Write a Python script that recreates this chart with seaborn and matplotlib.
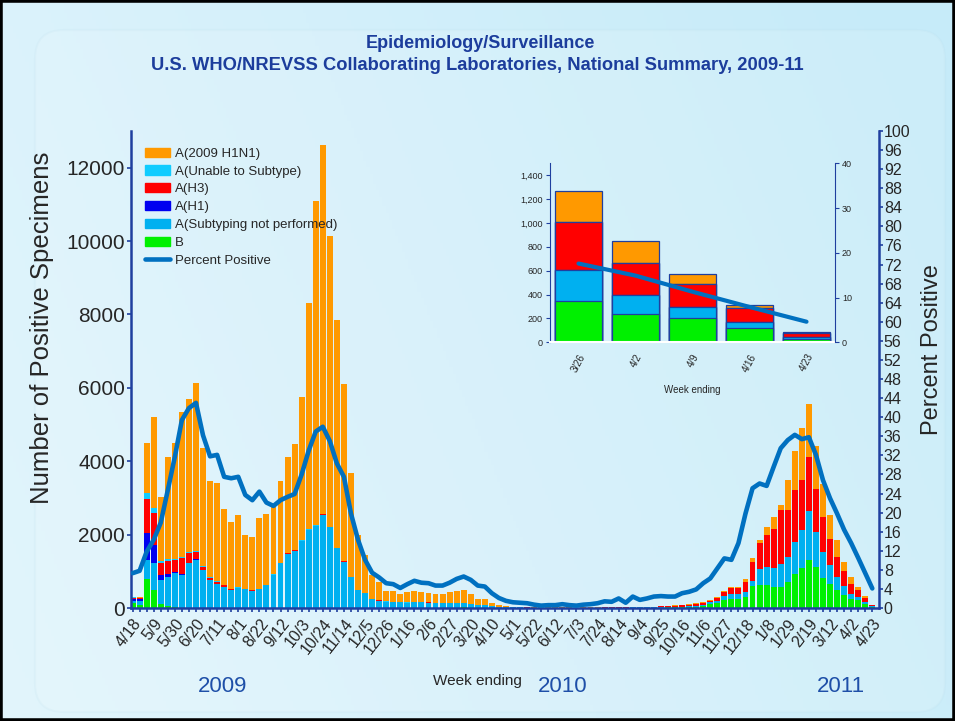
import numpy as np
import pandas as pd
import matplotlib
matplotlib.use("Agg")
import matplotlib.pyplot as plt
import seaborn as sns
from matplotlib.patches import Patch, FancyBboxPatch, Rectangle
from matplotlib.lines import Line2D
from matplotlib.colors import to_rgb

# ---- data: weekly counts, week ending 4/18/2009 .. 4/23/2011 ----
week_ending = pd.date_range("2009-04-18", "2011-04-23", freq="7D")

b_counts = [130, 70, 790, 490, 120, 50, 25, 10, 5, 5,
            3, 2, 2, 2, 2, 2, 2, 2, 2, 2,
            2, 2, 3, 3, 3, 4, 4, 4, 4, 4,
            4, 3, 3, 3, 3, 3, 3, 4, 5, 6,
            6, 7, 7, 8, 9, 10, 12, 14, 12, 10,
            10, 8, 6, 6, 5, 4, 4, 3, 3, 3,
            3, 3, 3, 3, 3, 3, 3, 4, 4, 5,
            6, 7, 8, 9, 10, 12, 15, 18, 20, 25,
            35, 45, 100, 125, 218, 254, 245, 290, 590, 626,
            626, 562, 562, 698, 925, 1079, 1306, 1107, 825, 644,
            490, 350, 240, 205, 120, 30]

a_not_subtyped = [70, 130, 520, 725, 640, 800, 920, 890, 1210, 1300,
                  1030, 760, 650, 580, 490, 535, 505, 470, 505, 620,
                  900, 1215, 1480, 1560, 1830, 2120, 2230, 2540, 2190, 1620,
                  1260, 830, 490, 400, 245, 200, 170, 155, 145, 140,
                  150, 150, 140, 120, 120, 120, 120, 120, 100, 70,
                  60, 40, 25, 15, 12, 10, 8, 7, 6, 5,
                  5, 5, 5, 4, 5, 5, 5, 5, 6, 6,
                  6, 7, 8, 8, 9, 10, 12, 14, 16, 20,
                  25, 30, 50, 75, 118, 136, 127, 136, 154, 435,
                  499, 517, 635, 680, 880, 1043, 1342, 952, 708, 526,
                  363, 255, 155, 90, 50, 15]

a_h1 = [40, 40, 726, 500, 140, 90, 40, 40, 25, 18,
        10, 5, 3, 2, 0, 0, 0, 0, 0, 0,
        0, 0, 0, 0, 0, 0, 0, 0, 0, 0,
        0, 0, 0, 0, 0, 0, 0, 0, 0, 0,
        0, 0, 0, 0, 0, 0, 0, 0, 0, 0,
        0, 0, 0, 0, 0, 0, 0, 0, 0, 0,
        0, 0, 0, 0, 0, 0, 0, 0, 0, 0,
        0, 0, 0, 0, 0, 0, 0, 0, 0, 0,
        0, 0, 0, 0, 0, 0, 0, 0, 0, 0,
        0, 0, 0, 0, 0, 0, 0, 0, 0, 0,
        0, 0, 0, 0, 0, 0]

a_h3 = [40, 30, 925, 880, 320, 340, 320, 410, 263, 209,
        73, 60, 60, 45, 25, 15, 12, 10, 8, 8,
        6, 6, 5, 5, 5, 5, 5, 5, 5, 5,
        4, 4, 3, 3, 3, 3, 3, 3, 3, 3,
        3, 3, 3, 3, 3, 3, 3, 3, 3, 3,
        3, 2, 2, 2, 2, 2, 2, 2, 2, 2,
        2, 2, 2, 2, 3, 3, 4, 5, 6, 7,
        9, 12, 13, 14, 16, 25, 30, 33, 38, 45,
        55, 70, 45, 80, 109, 163, 163, 290, 500, 700,
        862, 1070, 1470, 1288, 1406, 1379, 1469, 1197, 952, 698,
        544, 400, 270, 190, 115, 33]

a_unable = [15, 10, 180, 135, 60, 55, 30, 45, 27, 27,
            25, 25, 15, 10, 8, 8, 6, 6, 6, 6,
            8, 10, 10, 12, 15, 20, 20, 25, 20, 15,
            10, 8, 5, 4, 3, 3, 2, 2, 2, 2,
            2, 2, 2, 2, 2, 2, 2, 2, 2, 2,
            2, 2, 2, 2, 0, 0, 0, 0, 0, 0,
            0, 0, 0, 0, 0, 0, 0, 0, 0, 0,
            0, 0, 0, 0, 0, 0, 0, 0, 0, 0,
            0, 0, 0, 0, 0, 0, 0, 0, 0, 0,
            0, 0, 0, 0, 0, 0, 0, 0, 0, 0,
            0, 0, 0, 0, 0, 0]

a_h1n1_2009 = [15, 20, 1369, 2476, 1750, 2783, 3164, 3947, 4175, 4573,
               3231, 2613, 2690, 2055, 1806, 1971, 1461, 1435, 1919, 1922,
               1884, 2232, 2612, 2880, 3898, 6161, 8843, 10043, 7931, 6193,
               4817, 2838, 1485, 1032, 635, 498, 275, 307, 213, 275,
               311, 264, 265, 248, 256, 291, 316, 351, 264, 169,
               161, 84, 47, 38, 21, 14, 11, 8, 7, 5,
               5, 4, 4, 3, 3, 4, 4, 4, 4, 4,
               4, 4, 3, 4, 5, 7, 6, 7, 8, 10,
               12, 18, 23, 30, 27, 27, 45, 64, 126, 99,
               223, 336, 133, 834, 1061, 1406, 1434, 1152, 907, 663,
               453, 260, 180, 85, 30, 10]

pct_positive = [7.3, 7.8, 11.8, 14.3, 17.9, 24.7, 31.7, 39.4, 41.9, 43.0,
                36.2, 31.8, 32.1, 27.5, 27.2, 27.5, 23.7, 22.6, 24.4, 22.1,
                21.4, 22.6, 23.3, 23.9, 28.0, 33.0, 37.0, 38.0, 35.0, 30.3,
                27.5, 19.8, 14.3, 10.1, 7.4, 6.4, 5.2, 5.0, 4.2, 5.0,
                5.7, 5.3, 5.2, 4.7, 4.7, 5.3, 6.1, 6.6, 5.9, 4.7,
                4.5, 3.1, 2.1, 1.5, 1.2, 1.1, 1.0, 0.7, 0.5, 0.6,
                0.6, 0.8, 0.6, 0.5, 0.7, 0.8, 1.0, 1.4, 1.3, 2.0,
                1.1, 2.4, 1.7, 2.0, 2.4, 2.5, 2.4, 2.4, 3.1, 3.4,
                3.9, 5.2, 6.2, 8.3, 10.4, 10.1, 13.6, 19.8, 25.1, 26.1,
                25.6, 29.6, 33.5, 35.2, 36.3, 35.4, 35.8, 32.1, 26.8, 23.0,
                19.8, 16.4, 13.6, 10.5, 7.3, 4.1]

tick_labels = ["4/18", "5/9", "5/30", "6/20", "7/11", "8/1", "8/22", "9/12",
               "10/3", "10/24", "11/14", "12/5", "12/26", "1/16", "2/6", "2/27",
               "3/20", "4/10", "5/1", "5/22", "6/12", "7/3", "7/24", "8/14",
               "9/4", "9/25", "10/16", "11/6", "11/27", "12/18", "1/8", "1/29",
               "2/19", "3/12", "4/2", "4/23"]
year_labels = ["2009", "2010", "2011"]

# inset: last five weeks
inset_weeks = ["3/26", "4/2", "4/9", "4/16", "4/23"]
inset_pct = [17.6, 14.9, 11.3, 7.9, 4.6]

# stacking order (bottom -> top) and colours
series = ["B", "A(Subtyping not performed)", "A(H1)", "A(H3)",
          "A(Unable to Subtype)", "A(2009 H1N1)"]
colors = ["#00F000", "#00B0F0", "#0000F0", "#FF0000", "#10CCFF", "#FF9900"]
line_c = "#0070C0"
axis_c = "#1f3f9f"

df = pd.DataFrame({"week": week_ending,
                   series[0]: b_counts, series[1]: a_not_subtyped,
                   series[2]: a_h1, series[3]: a_h3,
                   series[4]: a_unable, series[5]: a_h1n1_2009,
                   "pct": pct_positive})
df["pos"] = np.arange(len(df))
cum = df[series].cumsum(axis=1)

sns.set_style("ticks")
plt.rcParams["font.family"] = ["Liberation Sans", "DejaVu Sans"]

fig = plt.figure(figsize=(9.55, 7.21), dpi=100)

# background
bg = fig.add_axes([0, 0, 1, 1], zorder=-5)
gx, gy = np.meshgrid(np.linspace(0, 1, 300), np.linspace(0, 1, 220))
t = np.clip(0.8 * gx + 0.25 * (1 - gy), 0, 1)
c0, c1 = np.array(to_rgb("#e2f5fc")), np.array(to_rgb("#c6ebf9"))
bg.imshow(c0 * (1 - t)[..., None] + c1 * t[..., None], extent=[0, 1, 0, 1], aspect="auto")
bg.axis("off")
fig.patches.append(FancyBboxPatch((35 / 955, 9 / 721), 910 / 955, 682 / 721,
                                  boxstyle="round,pad=0,rounding_size=0.03",
                                  mutation_aspect=955 / 721,
                                  transform=fig.transFigure, facecolor="white", alpha=0.12,
                                  edgecolor="#b5d9e8", lw=1.5, zorder=-4))
fig.patches.append(Rectangle((0, 0), 1, 1, transform=fig.transFigure, fill=False,
                             edgecolor="black", lw=4, zorder=10))

# ---- main chart ----
ax = fig.add_axes([131.3 / 955, 1 - 608 / 721, 747.7 / 955, 477 / 721])
ax.set_facecolor("none")
ax.set_zorder(2)
for k in reversed(range(len(series))):
    sns.barplot(x=df["pos"], y=cum[series[k]], color=colors[k], saturation=1,
                width=0.84, native_scale=True, errorbar=None, linewidth=0, ax=ax)
ax.set_xlim(-0.18, 105.95)
ax.set_ylim(0, 13000)
ax.set_yticks(range(0, 12001, 2000))
ax.set_xticks(df["pos"][::3])
ax.set_xticklabels(tick_labels, rotation=52, ha="right", rotation_mode="anchor", fontsize=11.5)
ax.set_xticks(df["pos"], minor=True)
ax.tick_params(axis="x", which="both", direction="out", length=3, width=1.2, color=axis_c, pad=3)
ax.tick_params(axis="y", direction="out", length=3, width=1.2, color=axis_c, labelsize=15, pad=1.5)
ax.set_xlabel("")
ax.set_ylabel("")
for s in ["left", "bottom"]:
    ax.spines[s].set_color(axis_c)
    ax.spines[s].set_linewidth(1.8)
ax.spines["top"].set_visible(False)
ax.spines["right"].set_visible(False)

ax2 = ax.twinx()
ax2.set_zorder(3)
ax2.set_facecolor("none")
sns.lineplot(x=df["pos"], y=df["pct"], color=line_c, linewidth=3.3, ax=ax2)
ax2.set_ylim(0, 100)
ax2.set_yticks(range(0, 101, 4))
ax2.tick_params(axis="y", direction="out", length=3, width=1.2, color=axis_c, labelsize=11.5, pad=0.5)
ax2.set_ylabel("")
ax2.set_xlabel("")
for s in ["top", "left", "bottom"]:
    ax2.spines[s].set_visible(False)
ax2.spines["right"].set_color(axis_c)
ax2.spines["right"].set_linewidth(1.8)

handles = [Patch(color=colors[k], label=series[k]) for k in reversed(range(len(series)))]
handles.append(Line2D([], [], color=line_c, lw=3.3, label="Percent Positive"))
ax2.legend(handles=handles, loc="upper left", bbox_to_anchor=(0.018, 0.965), frameon=False,
           fontsize=9.5, handlelength=1.95, handleheight=0.7, labelspacing=0.42,
           handletextpad=0.35, borderaxespad=0, borderpad=0)

# ---- inset ----
axin = fig.add_axes([550 / 955, 1 - 342.3 / 721, 285 / 955, 179 / 721])
axin.set_zorder(4)
axin.set_facecolor("none")
inset_pos = np.arange(len(inset_weeks))
tail = cum.iloc[-len(inset_weeks):]
for k in reversed(range(len(series))):
    sns.barplot(x=inset_pos, y=tail[series[k]].values, color=colors[k], saturation=1,
                width=0.83, native_scale=True, errorbar=None,
                edgecolor=axis_c, linewidth=0.9, ax=axin)
axin.set_xlim(-0.5, 4.5)
axin.set_ylim(0, 1500)
axin.set_yticks(range(0, 1401, 200))
axin.set_yticklabels([f"{v:,}" for v in range(0, 1401, 200)], fontsize=6.5)
axin.set_xticks(inset_pos)
axin.set_xticklabels(inset_weeks, rotation=62, ha="right", rotation_mode="anchor", fontsize=7)
axin.tick_params(axis="x", length=0, pad=7)
axin.tick_params(axis="y", direction="out", length=3, color=axis_c, pad=2)
axin.set_xlabel("Week ending", fontsize=7, labelpad=8)
axin.set_ylabel("")
axin.spines["top"].set_visible(False)
axin.spines["right"].set_visible(False)
axin.spines["left"].set_color(axis_c)
axin.spines["bottom"].set_color("white")
axin.spines["bottom"].set_linewidth(1.5)

axin2 = axin.twinx()
axin2.set_zorder(5)
axin2.set_facecolor("none")
sns.lineplot(x=inset_pos, y=inset_pct, color=line_c, linewidth=3, ax=axin2)
axin2.set_ylim(0, 40)
axin2.set_yticks([0, 10, 20, 30, 40])
axin2.tick_params(axis="y", direction="out", length=3, color=axis_c, labelsize=6.5, pad=2)
axin2.set_ylabel("")
for s in ["top", "left", "bottom"]:
    axin2.spines[s].set_visible(False)
axin2.spines["right"].set_color(axis_c)

# ---- texts ----
fig.text(480 / 955, 1 - 43 / 721, "Epidemiology/Surveillance", ha="center", va="center",
         fontsize=13, weight="bold", color="#1c3d9c")
fig.text(477 / 955, 1 - 65 / 721,
         "U.S. WHO/NREVSS Collaborating Laboratories, National Summary, 2009-11",
         ha="center", va="center", fontsize=13.2, weight="bold", color="#1c3d9c")
fig.text(42 / 955, 1 - 328 / 721, "Number of Positive Specimens", rotation=90,
         ha="center", va="center", fontsize=18.5)
fig.text(932 / 955, 1 - 350 / 721, "Percent Positive", rotation=90,
         ha="center", va="center", fontsize=17)
fig.text(477 / 955, 1 - 681 / 721, "Week ending", ha="center", va="center", fontsize=11)
for xpix, yl in zip([223, 563, 841], year_labels):
    fig.text(xpix / 955, 1 - 686 / 721, yl, ha="center", va="center", fontsize=16, color="#1e4fa8")

fig.savefig("out.png", dpi=100)
